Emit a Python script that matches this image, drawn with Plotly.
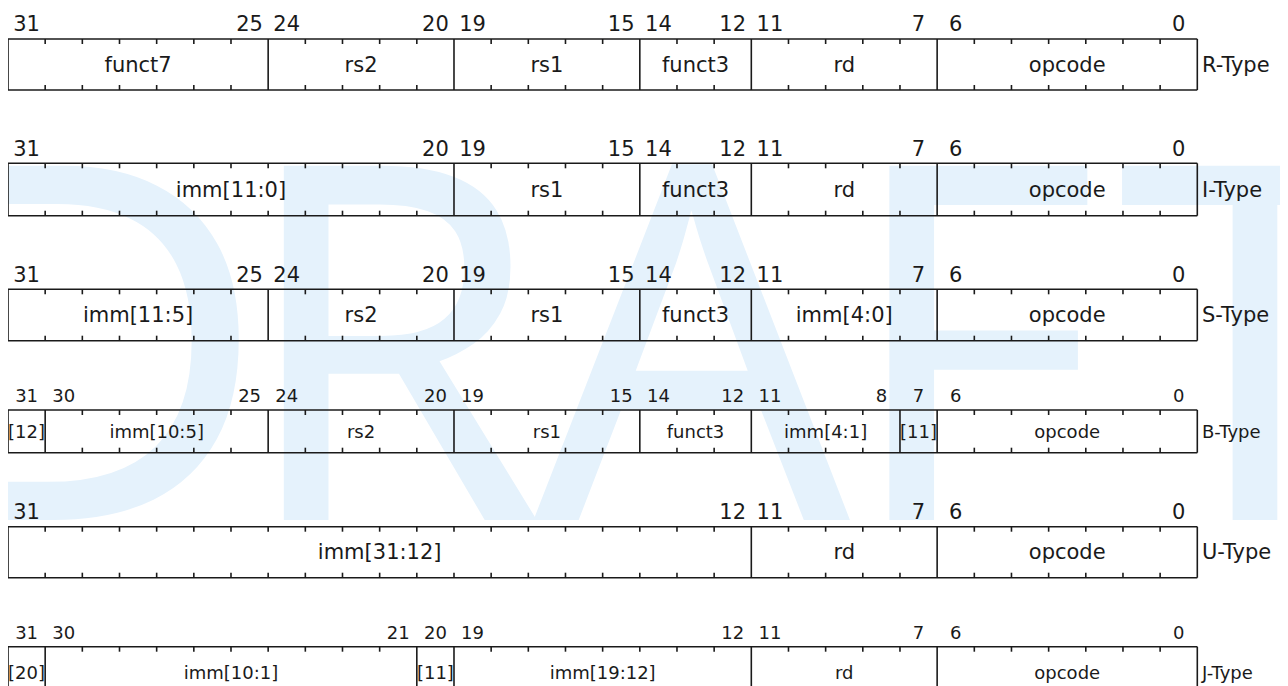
import plotly.graph_objects as go

# ---------------- data ----------------
formats = ["R-Type", "I-Type", "S-Type", "B-Type", "U-Type", "J-Type"]

r_names = ["funct7", "rs2", "rs1", "funct3", "rd", "opcode"]
r_msb = [31, 24, 19, 14, 11, 6]
r_lsb = [25, 20, 15, 12, 7, 0]

i_names = ["imm[11:0]", "rs1", "funct3", "rd", "opcode"]
i_msb = [31, 19, 14, 11, 6]
i_lsb = [20, 15, 12, 7, 0]

s_names = ["imm[11:5]", "rs2", "rs1", "funct3", "imm[4:0]", "opcode"]
s_msb = [31, 24, 19, 14, 11, 6]
s_lsb = [25, 20, 15, 12, 7, 0]

b_names = ["[12]", "imm[10:5]", "rs2", "rs1", "funct3", "imm[4:1]", "[11]", "opcode"]
b_msb = [31, 30, 24, 19, 14, 11, 7, 6]
b_lsb = [31, 25, 20, 15, 12, 8, 7, 0]

u_names = ["imm[31:12]", "rd", "opcode"]
u_msb = [31, 11, 6]
u_lsb = [12, 7, 0]

j_names = ["[20]", "imm[10:1]", "[11]", "imm[19:12]", "rd", "opcode"]
j_msb = [31, 30, 20, 19, 11, 6]
j_lsb = [31, 21, 20, 12, 7, 0]

watermark_letters = ["D", "R", "A", "F", "T"]

fields = [
    (r_names, r_msb, r_lsb),
    (i_names, i_msb, i_lsb),
    (s_names, s_msb, s_lsb),
    (b_names, b_msb, b_lsb),
    (u_names, u_msb, u_lsb),
    (j_names, j_msb, j_lsb),
]

# ---------------- layout (page pixels) ----------------
W, H = 1288, 686
OFF = 8.0                      # page body margin in front of the figure
BOX_L, BOX_R = 8.0, 1197.3     # page x of bit 31 left edge / bit 0 right edge
PX_PER_BIT = (BOX_R - BOX_L) / 32


def px2x(px):
    return 32 - (px - BOX_L) / PX_PER_BIT


X_LEFT = px2x(OFF)
X_RIGHT = px2x(OFF + W)

row_top = [39.0, 163.3, 289.3, 410.0, 526.7, 646.7]
row_h = [51.0, 52.4, 51.4, 42.7, 51.0, 51.0]
row_font = [21, 21, 21, 18, 21, 18]
num_gap = [13.0, 13.0, 13.0, 12.5, 13.0, 12.0]
TICK = 5.0
FONT = "DejaVu Sans"
INK = "#1a1a1a"

fig = go.Figure()

# watermark (drawn first, so it sits underneath)
wm_px = [88, 390, 692, 970, 1255]
fig.add_trace(go.Scatter(
    x=[px2x(p) for p in wm_px], y=[396.0] * len(wm_px),
    mode="text", text=watermark_letters, textposition="middle center",
    textfont=dict(family="Noto Sans", size=496, color="#e5f2fc"),
    cliponaxis=False, hoverinfo="skip", showlegend=False))

# lines
lx, ly = [], []
for (names, msb, lsb), top, h in zip(fields, row_top, row_h):
    bot = top + h
    lx += [32, 0, None, 32, 0, None]
    ly += [top, top, None, bot, bot, None]
    lx += [32, 32, None, 0, 0, None]
    ly += [top, bot, None, top, bot, None]
    for k, (m, l) in enumerate(zip(msb, lsb)):
        if k > 0:
            lx += [m + 1, m + 1, None]
            ly += [top, bot, None]
        for b in range(l + 1, m + 1):
            lx += [b, b, None, b, b, None]
            ly += [top, top + TICK, None, bot - TICK, bot, None]

fig.add_trace(go.Scatter(x=lx, y=ly, mode="lines",
                         line=dict(color=INK, width=1.6),
                         hoverinfo="skip", showlegend=False))

# texts
for fmt, (names, msb, lsb), top, h, fs, gap in zip(formats, fields, row_top, row_h, row_font, num_gap):
    tx, ty, tt = [], [], []
    for n, m, l in zip(names, msb, lsb):
        tx.append((m + 1 + l) / 2)
        ty.append(top + h / 2 + 2.0)
        tt.append(n)
        tx.append(m + 0.5)
        ty.append(top - gap)
        tt.append(str(m))
        if l != m:
            tx.append(l + 0.5)
            ty.append(top - gap)
            tt.append(str(l))
    fig.add_trace(go.Scatter(x=tx, y=ty, mode="text", text=tt,
                             textposition="middle center",
                             textfont=dict(family=FONT, size=fs, color=INK),
                             cliponaxis=False, hoverinfo="skip", showlegend=False))
    fig.add_trace(go.Scatter(x=[px2x(1202)], y=[top + h / 2 + 2.0], mode="text",
                             text=[fmt], textposition="middle right",
                             textfont=dict(family=FONT, size=fs, color=INK),
                             cliponaxis=False, hoverinfo="skip", showlegend=False))

fig.update_layout(
    width=W, height=H,
    margin=dict(l=0, r=0, t=0, b=0),
    paper_bgcolor="white", plot_bgcolor="white",
    xaxis=dict(range=[X_LEFT, X_RIGHT], visible=False, fixedrange=True),
    yaxis=dict(range=[OFF + H, OFF], visible=False, fixedrange=True),
    showlegend=False,
)

fig.write_html("out.html")
